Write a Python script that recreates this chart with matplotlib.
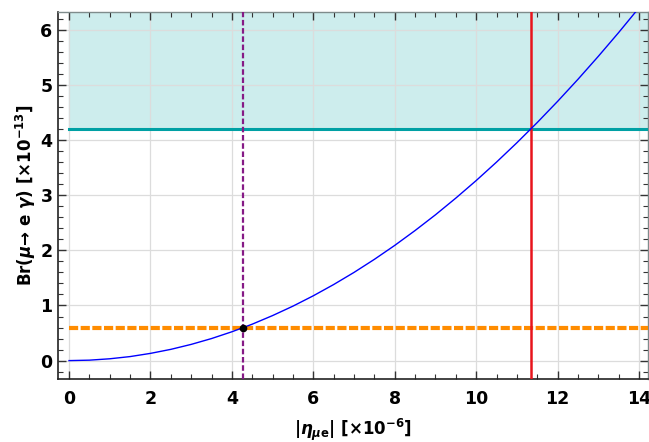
import matplotlib
matplotlib.use("Agg")
import matplotlib.pyplot as plt
from matplotlib.ticker import MultipleLocator

plt.rcParams['font.family'] = ['DejaVu Sans']
plt.rcParams['mathtext.fontset'] = 'custom'
plt.rcParams['mathtext.rm'] = 'DejaVu Sans:bold'
plt.rcParams['mathtext.it'] = 'DejaVu Sans:italic:bold'
plt.rcParams['mathtext.bf'] = 'DejaVu Sans:bold'

# curve
eta = [0, 0.5, 1, 1.5, 2, 2.5, 3, 3.5, 4, 4.5, 5, 5.5, 6, 6.5, 7, 7.5,
       8, 8.5, 9, 9.5, 10, 10.5, 11, 11.5, 12, 12.5, 13, 13.5, 14]
br = [0, 0.008, 0.033, 0.073, 0.131, 0.204, 0.294, 0.400, 0.523, 0.661,
      0.817, 0.988, 1.176, 1.380, 1.600, 1.837, 2.090, 2.360, 2.645, 2.948,
      3.266, 3.601, 3.952, 4.319, 4.703, 5.103, 5.520, 5.952, 6.401]

meg_limit = 4.2      # cyan band
future_limit = 0.6   # orange dashed
eta_now = 11.34      # red line
eta_future = 4.28    # purple dashed

xmin, xmax = -0.27, 14.22
ymin, ymax = -0.33, 6.33

fig = plt.figure(figsize=(6.49, 4.42), dpi=100)
ax = fig.add_axes([0.0894, 0.143, 0.909, 0.8305])

ax.fill_between([0, xmax], meg_limit, ymax, color='#cdeded', zorder=1)
ax.grid(True, which='major', color='#dcdcdc', lw=0.9, zorder=1.5)
ax.plot([0, xmax], [meg_limit, meg_limit], color='#00a0a4', lw=2.2, zorder=3)
ax.plot([0, xmax], [future_limit, future_limit], color='#ff8c00', lw=3,
        ls=(0, (2.2, 0.6)), zorder=3)
ax.axvline(eta_now, color='#e8141c', lw=1.8, zorder=4)
ax.axvline(eta_future, color='#861a86', lw=1.6, ls=(0, (2.5, 1.2)), zorder=4)
ax.plot(eta, br, color='#0000ff', lw=1.0, zorder=5)
ax.plot([eta_future], [future_limit], 'o', color='black', ms=4.5, zorder=6)

ax.set_xlim(xmin, xmax)
ax.set_ylim(ymin, ymax)
ax.xaxis.set_major_locator(MultipleLocator(2))
ax.xaxis.set_minor_locator(MultipleLocator(0.5))
ax.yaxis.set_major_locator(MultipleLocator(1))
ax.yaxis.set_minor_locator(MultipleLocator(0.2))
ax.tick_params(which='both', direction='in', top=True, right=True,
               color='#333333')
ax.tick_params(which='major', length=6, width=1, labelsize=12.5)
ax.tick_params(axis='x', which='major', pad=8)
ax.tick_params(axis='y', which='major', pad=4)
ax.tick_params(which='minor', length=3.5, width=0.8)
for lab in ax.get_xticklabels() + ax.get_yticklabels():
    lab.set_fontweight('bold')

for s in ['left', 'bottom']:
    ax.spines[s].set_color('#222222')
    ax.spines[s].set_linewidth(1.2)
for s in ['top', 'right']:
    ax.spines[s].set_color('#7f8c8c')
    ax.spines[s].set_linewidth(1.0)

ax.set_xlabel(r'|$\eta_{\mu\mathrm{e}}$| [×10$^{-6}$]', fontsize=12,
              fontweight='bold', labelpad=6)
ax.set_ylabel(r'Br($\mu$→ e $\gamma$) [×10$^{-13}$]', fontsize=12,
              fontweight='bold', labelpad=2)

fig.savefig('out.png', dpi=100)
